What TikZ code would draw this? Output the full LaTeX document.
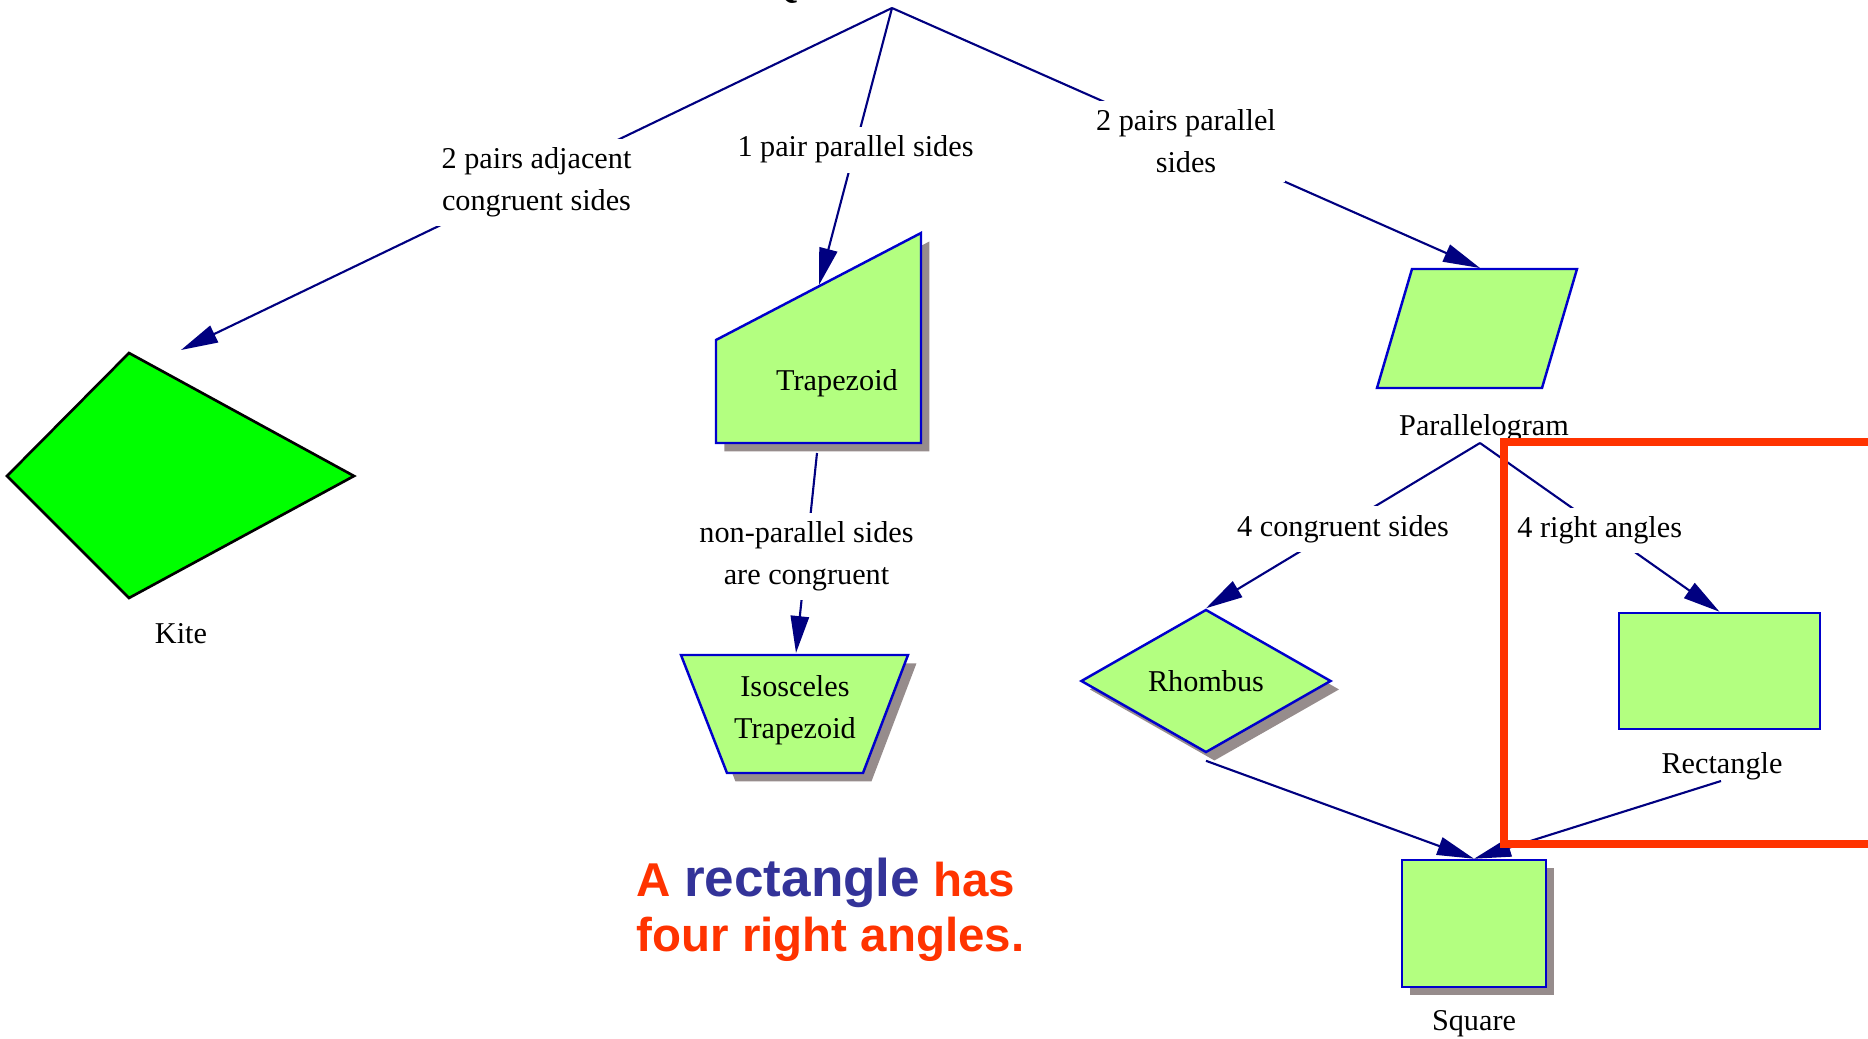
\documentclass[tikz,border=0pt]{standalone}
\usepackage{fontspec}
\setmainfont{Liberation Serif}
\setsansfont{Liberation Sans}
\usepackage{xcolor}
\usepackage{tikz}
\usetikzlibrary{positioning,arrows.meta,shapes.geometric,shadows}
\definecolor{vertClair}{HTML}{B3FF80}
\definecolor{vertVif}{HTML}{00FF00}
\definecolor{bleuBord}{HTML}{0000CC}
\definecolor{marine}{HTML}{000080}
\definecolor{grisOmbre}{HTML}{968C8C}
\definecolor{rougeCadre}{HTML}{FF3300}
\definecolor{bleuTexte}{HTML}{333399}
\tikzset{
  texte/.style={font=\fontsize{8.6}{11.8}\selectfont, align=center},
  forme/.style={draw=bleuBord, fill=vertClair, line width=0.7pt, texte},
  formeOmbre/.style={forme,
    drop shadow={shadow xshift=2.4pt, shadow yshift=-2.4pt, fill=grisOmbre, opacity=1}},
  cerfVolant/.style={draw=black, fill=vertVif, line width=0.75pt},
  fleche/.style={draw=marine, line width=0.6pt, -{Triangle[length=10.5pt, width=5.2pt]}},
  etiquette/.style={texte, inner sep=2.6pt},
  etiquetteArete/.style={etiquette, fill=white, yshift=-0.9pt},
  titre/.style={font=\fontsize{14}{16}\selectfont},
  phrase/.style={font=\sffamily\bfseries\fontsize{13.5}{15.65}\selectfont,
    text=rougeCadre, align=left, inner sep=0pt},
  cadreRouge/.style={draw=rougeCadre, line width=2.1pt}
}
\begin{document}
\begin{tikzpicture}[x=0.01cm, y=-0.01cm]
  \useasboundingbox (0,0) rectangle (1868,1039);

  % --- Racine, coupee par le haut de l'image
  \node[titre, anchor=base] (quadLbl) at (892,-5) {Quadrilateral};
  \coordinate (quad) at (892,8);

  % --- Branche gauche : cerf-volant
  \draw[cerfVolant] (129,353) -- (354,476) -- (129,598) -- (7,476) -- cycle;
  \node[etiquette] (kiteLbl) at (181,634) {Kite};
  \coordinate (kiteIn) at (181,350);

  % --- Branche centrale : trapezes
  \draw[formeOmbre] (716,340) -- (921,233) -- (921,443) -- (716,443) -- cycle;
  \node[etiquette] (trapLbl) at (837,383) {Trapezoid};
  \coordinate (trapIn) at (819,285);
  \coordinate (trapOut) at (817,453);

  \draw[formeOmbre] (681,655) -- (908,655) -- (863,773) -- (727,773) -- cycle;
  \node[etiquette] (isoLbl) at (795,710) {Isosceles\\Trapezoid};
  \coordinate (isoIn) at (796,653);

  % --- Branche droite : parallelogramme et ses descendants
  \draw[forme] (1412,269) -- (1577,269) -- (1542,388) -- (1377,388) -- cycle;
  \node[etiquette] (paraLbl) at (1484,428) {Parallelogram};
  \coordinate (paraIn) at (1480,268);
  \coordinate (paraOut) at (1480,443);

  \node[formeOmbre, diamond, aspect=1.75, inner sep=0pt,
        minimum width=2.5cm, minimum height=1.43cm] (rho) at (1206,681) {Rhombus};

  \node[forme, minimum width=2.01cm, minimum height=1.16cm] (rect) at (1719.5,671) {};
  \node[etiquette] (rectLbl) at (1722,766) {Rectangle};
  \coordinate (rectOut) at (1721,781);

  \node[formeOmbre, minimum width=1.44cm, minimum height=1.27cm] (carre) at (1474,923.5) {};
  \node[etiquette] (carreLbl) at (1474,1024) {Square};

  % --- Aretes de la hierarchie
  \draw[fleche] (quad) -- node[etiquetteArete] {2 pairs adjacent\\congruent sides} (kiteIn);
  \draw[fleche] (quad) -- node[etiquetteArete] {1 pair parallel sides} (trapIn);
  \draw[fleche] (quad) -- node[etiquetteArete] {2 pairs parallel\\sides} (paraIn);
  \draw[fleche] (trapOut) -- node[etiquetteArete] {non-parallel sides\\are congruent} (isoIn);
  \draw[fleche] (paraOut) -- node[etiquetteArete] {4 congruent sides} (rho.north);
  \draw[fleche] (paraOut) -- node[etiquetteArete] {4 right angles} (rect.north);
  \draw[fleche] ([yshift=-2pt]rho.south) -- (carre.north);
  \draw[fleche] (rectOut) -- (carre.north);

  % --- Phrase et cadre de mise en evidence
  \node[phrase, anchor=north west] (phrase) at (636,857)
        {A {\color{bleuTexte}\fontsize{15.1}{15.65}\selectfont rectangle} has\\four right angles.};
  \draw[cadreRouge] (1868,442) -- (1504,442) -- (1504,844) -- (1868,844);

\end{tikzpicture}
\end{document}
